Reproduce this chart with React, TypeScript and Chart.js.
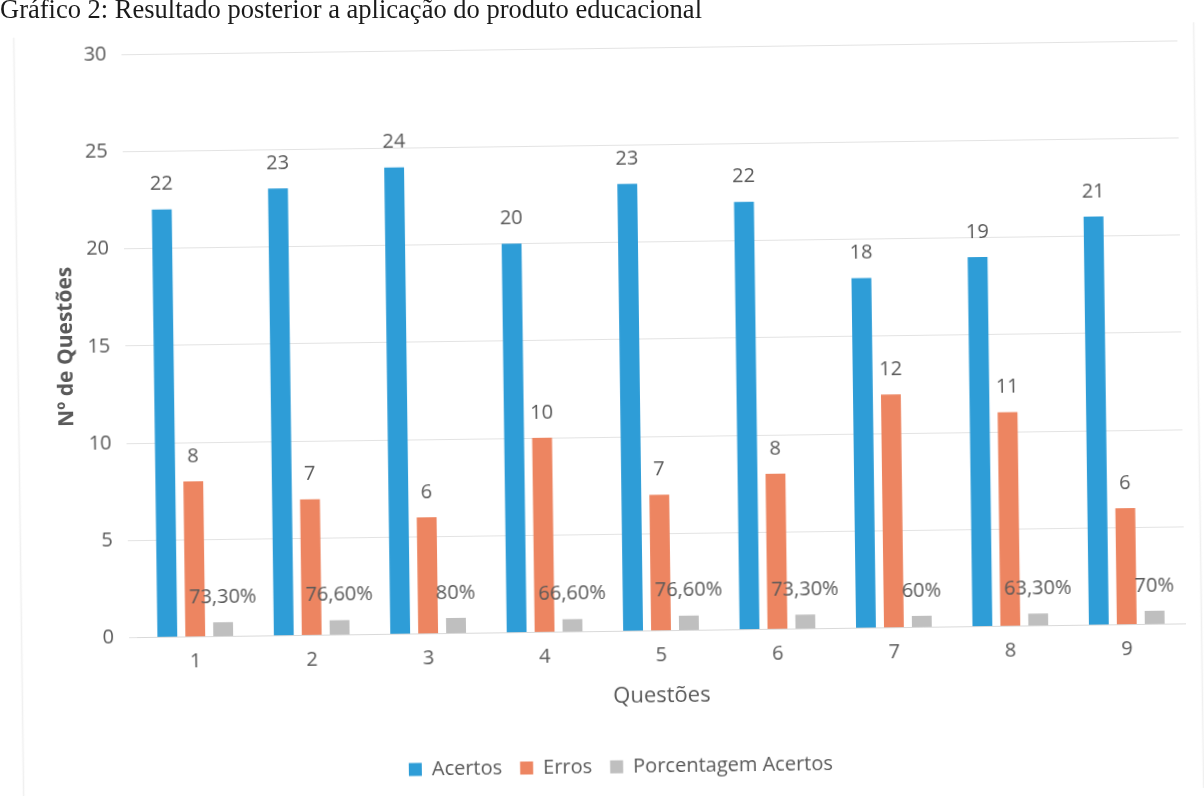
import React, { useEffect, useRef } from "react";
import { Chart, registerables } from "chart.js";

Chart.register(...registerables);

const categories = ["1", "2", "3", "4", "5", "6", "7", "8", "9"];
const acertos = [22, 23, 24, 20, 23, 22, 18, 19, 21];
const erros = [8, 7, 6, 10, 7, 8, 12, 11, 6];
const porcentagem = [0.733, 0.766, 0.8, 0.666, 0.766, 0.733, 0.6, 0.633, 0.7];
const porcentagemLabels = ["73,30%", "76,60%", "80%", "66,60%", "76,60%", "73,30%", "60%", "63,30%", "70%"];
const yTicks = [0, 5, 10, 15, 20, 25, 30];

const FONT = "'Open Sans', 'Liberation Sans', sans-serif";
const TEXT = "#595959";

const valueLabels = {
  id: "valueLabels",
  afterDatasetsDraw(chart: any) {
    const ctx = chart.ctx;
    ctx.save();
    ctx.font = `20px ${FONT}`;
    ctx.fillStyle = TEXT;
    ctx.textAlign = "center";
    ctx.textBaseline = "middle";
    chart.data.datasets.forEach((ds: any, di: number) => {
      const meta = chart.getDatasetMeta(di);
      meta.data.forEach((bar: any, i: number) => {
        const text = di === 2 ? porcentagemLabels[i] : String(ds.data[i]);
        ctx.fillText(text, bar.x, bar.y - 25);
      });
    });
    ctx.restore();
  },
};

const frame = {
  id: "frame",
  beforeDraw(chart: any) {
    const ctx = chart.ctx;
    ctx.save();
    ctx.strokeStyle = "#f0f0f0";
    ctx.lineWidth = 1.5;
    ctx.beginPath();
    ctx.moveTo(18.5, 30);
    ctx.lineTo(18.5, 796);
    ctx.moveTo(1198.5, 30);
    ctx.lineTo(1198.5, 796);
    ctx.stroke();
    ctx.restore();
  },
};

export default function App() {
  const ref = useRef<HTMLCanvasElement | null>(null);
  useEffect(() => {
    if (!ref.current) return;
    const chart = new Chart(ref.current, {
      type: "bar",
      data: {
        labels: categories,
        datasets: [
          { label: "Acertos", data: acertos, backgroundColor: "#2e9dd7" },
          { label: "Erros", data: erros, backgroundColor: "#ed8561" },
          { label: "Porcentagem Acertos", data: porcentagem, backgroundColor: "#bfbfbf" },
        ],
      },
      options: {
        animation: false,
        responsive: false,
        maintainAspectRatio: false,
        layout: { padding: { left: 50, right: 22, top: 48, bottom: 9 } },
        datasets: { bar: { categoryPercentage: 0.72, barPercentage: 0.71 } },
        plugins: {
          title: { display: false },
          legend: {
            position: "bottom",
            labels: {
              boxWidth: 13,
              boxHeight: 13,
              color: TEXT,
              font: { family: FONT, size: 20 },
              padding: 18,
            },
          },
          tooltip: { enabled: false },
        },
        scales: {
          x: {
            grid: { display: false },
            border: { color: "#d9d9d9" },
            ticks: { color: TEXT, font: { family: FONT, size: 20 }, padding: 5 },
            title: { display: true, text: "Questões", color: TEXT, font: { family: FONT, size: 22 }, padding: { top: 10, bottom: 29 } },
          },
          y: {
            min: 0,
            max: 30,
            afterBuildTicks: (axis: any) => {
              axis.ticks = yTicks.map((v) => ({ value: v }));
            },
            afterFit: (scale: any) => {
              scale.width = 84;
            },
            grid: { color: "#e3e3e3" },
            border: { display: false },
            ticks: { color: TEXT, font: { family: FONT, size: 20 }, padding: 15 },
            title: { display: true, text: "Nº de Questões", color: TEXT, font: { family: FONT, size: 21, weight: "bold" }, padding: { top: 4, bottom: 0 } },
          },
        },
      },
      plugins: [valueLabels, frame],
    });
    return () => chart.destroy();
  }, []);
  return (
    <div style={{ position: "absolute", left: 0, top: 0, width: 1204, height: 796, background: "#fff", overflow: "hidden" }}>
      <canvas
        ref={ref}
        width={1204}
        height={796}
        style={{ display: "block", position: "absolute", left: 0, top: 0, transform: "rotate(-0.75deg)", transformOrigin: "602px 398px" }}
      />
      <div
        style={{
          position: "absolute",
          left: 0,
          top: -6,
          fontFamily: "'Liberation Serif', 'DejaVu Serif', serif",
          fontSize: 26.5,
          color: "#1a1a1a",
          whiteSpace: "nowrap",
        }}
      >
        Gráfico 2: Resultado posterior a aplicação do produto educacional
      </div>
    </div>
  );
}
